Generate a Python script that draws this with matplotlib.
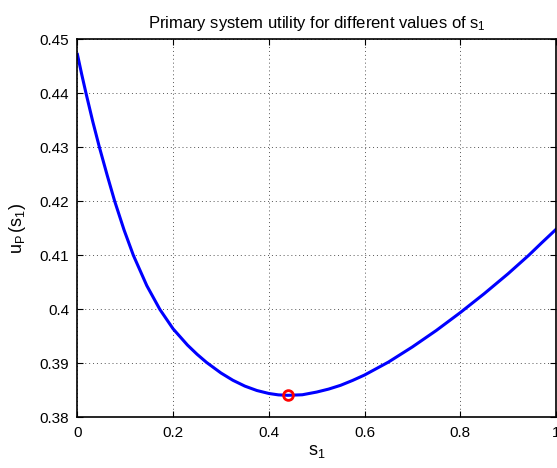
import matplotlib
matplotlib.use("Agg")
import matplotlib.pyplot as plt

plt.rcParams['font.family'] = ['Liberation Sans', 'DejaVu Sans']
plt.rcParams['mathtext.fontset'] = 'custom'
plt.rcParams['mathtext.rm'] = 'Liberation Sans'
plt.rcParams['mathtext.it'] = 'Liberation Sans'

s_vals = [0.0, 0.009, 0.018, 0.032, 0.046, 0.062, 0.078, 0.0975, 0.117, 0.145,
          0.1723, 0.2, 0.23, 0.25, 0.27, 0.3, 0.325, 0.35, 0.375, 0.4, 0.42, 0.44,
          0.47, 0.5, 0.525, 0.55, 0.575, 0.6, 0.65, 0.7, 0.75, 0.8, 0.85, 0.9,
          0.943, 0.97, 1.0]
u_vals = [0.4472, 0.4435, 0.4400, 0.4348, 0.4300, 0.4249, 0.4200, 0.4147, 0.4100,
          0.4044, 0.4000, 0.3964, 0.3934, 0.3917, 0.39018, 0.38823, 0.38688,
          0.38580, 0.38499, 0.38444, 0.38418, 0.38410, 0.3842, 0.3847, 0.38525,
          0.38595, 0.38685, 0.38785, 0.39025, 0.39305, 0.3961, 0.3994, 0.4029,
          0.4066, 0.4100, 0.4123, 0.4148]
opt_s = [0.44]
opt_u = [0.3841]

xticks = [0, 0.2, 0.4, 0.6, 0.8, 1]
xticklabels = ['0', '0.2', '0.4', '0.6', '0.8', '1']
yticks = [0.38, 0.39, 0.40, 0.41, 0.42, 0.43, 0.44, 0.45]
yticklabels = ['0.38', '0.39', '0.4', '0.41', '0.42', '0.43', '0.44', '0.45']

fig = plt.figure(figsize=(5.57, 4.68), dpi=100)
ax = fig.add_axes([0.139, 0.108, 0.859, 0.808])

ax.plot(s_vals, u_vals, color='#0000ff', lw=2.2, solid_joinstyle='round')
ax.plot(opt_s, opt_u, 'o', mfc='none', mec='#ff0000', mew=2.0, ms=7)

ax.set_xlim(0, 1)
ax.set_ylim(0.38, 0.45)
ax.set_xticks(xticks)
ax.set_xticklabels(xticklabels)
ax.set_yticks(yticks)
ax.set_yticklabels(yticklabels)
ax.tick_params(direction='in', top=True, right=True, length=4, width=0.8,
               labelsize=11, pad=6)
ax.grid(True, linestyle=(0, (1, 3)), color='#555555', linewidth=0.7)
for sp in ax.spines.values():
    sp.set_linewidth(1.2)

ax.set_title(r'Primary system utility for different values of $\mathregular{s_1}$',
             fontsize=12, pad=8)
ax.set_xlabel(r'$\mathregular{s_1}$', fontsize=13, labelpad=2)
ax.set_ylabel(r'$\mathregular{u_P\,(s_1)}$', fontsize=13, labelpad=8)

fig.savefig('out.png', dpi=100)
